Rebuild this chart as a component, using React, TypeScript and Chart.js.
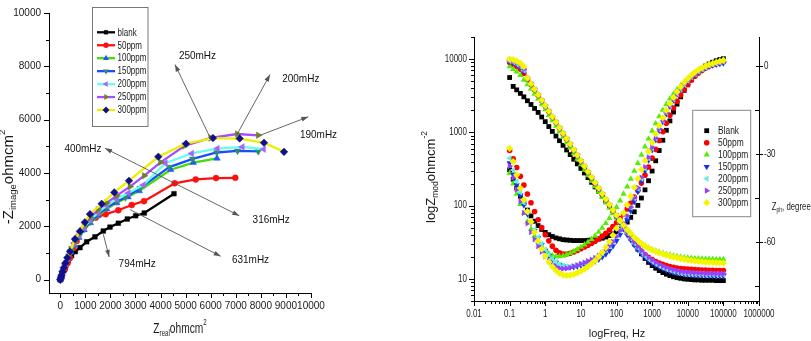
import React, { useEffect, useRef } from 'react';
import { Chart, registerables } from 'chart.js';
Chart.register(...registerables);

// ---------------- Nyquist data (left) ----------------
const nyqNames = ['blank', '50ppm', '100ppm', '150ppm', '200ppm', '250ppm', '300ppm'];
const blankZre = [0, 30, 70, 130, 210, 320, 450, 600, 786, 1053, 1384, 1715, 1983, 2314, 2673, 3008, 3351, 4535];
const blankZim = [0, 80, 190, 340, 520, 720, 900, 1050, 1200, 1420, 1606, 1825, 1971, 2117, 2275, 2397, 2500, 3223];
const ppm50Zre = [0, 60, 187, 290, 387, 519, 654, 854, 1117, 1412, 1811, 2314, 2848, 3339, 4562, 5401, 6211, 6981];
const ppm50Zim = [0, 130, 390, 620, 814, 1179, 1449, 1850, 2153, 2325, 2456, 2602, 2799, 2945, 3613, 3759, 3808, 3820];
const ppm100Zre = [0, 40, 110, 200, 300, 420, 560, 740, 950, 1200, 1500, 1850, 2250, 2700, 3150, 4404, 5305, 6250];
const ppm100Zim = [0, 115, 310, 540, 780, 1030, 1290, 1580, 1870, 2130, 2390, 2650, 2880, 3100, 3330, 4124, 4392, 4550];
const ppm150Zre = [0, 40, 110, 200, 300, 420, 560, 740, 950, 1200, 1500, 1850, 2250, 2600, 3180, 4348, 5281, 6239, 7068, 7898];
const ppm150Zim = [0, 115, 315, 550, 800, 1060, 1320, 1610, 1900, 2170, 2440, 2700, 2930, 3080, 3431, 4222, 4526, 4769, 4830, 4810];
const ppm200Zre = [0, 40, 110, 200, 300, 420, 560, 740, 950, 1200, 1500, 1850, 2250, 2712, 3311, 4190, 5241, 6263, 7260, 8110];
const ppm200Zim = [0, 120, 325, 570, 830, 1100, 1370, 1670, 1960, 2240, 2510, 2780, 3020, 3248, 3551, 4370, 4733, 4916, 4976, 4891];
const ppm250Zre = [0, 40, 110, 200, 300, 420, 560, 740, 950, 1200, 1500, 1850, 2250, 2780, 3350, 4000, 4946, 5999, 7060, 7898];
const ppm250Zim = [0, 125, 340, 590, 860, 1140, 1420, 1730, 2040, 2330, 2620, 2880, 3150, 3490, 3900, 4400, 5012, 5316, 5462, 5414];
const ppm300Zre = [0, 20, 50, 90, 140, 200, 280, 387, 586, 786, 980, 1184, 1650, 2154, 2740, 3909, 5014, 6090, 7154, 8125, 8923];
const ppm300Zim = [0, 70, 170, 300, 450, 620, 820, 1058, 1522, 1813, 2150, 2456, 2847, 3273, 3711, 4609, 5098, 5310, 5292, 5134, 4793];

const nyqXTicks = [0, 1000, 2000, 3000, 4000, 5000, 6000, 7000, 8000, 9000, 10000];
const nyqYTicks = [0, 2000, 4000, 6000, 8000, 10000];

const annoText = ['250mHz', '200mHz', '190mHz', '400mHz', '316mHz', '631mHz', '794mHz'];
const annoTextX = [5472, 9593, 10300, 905, 8412, 7587, 3067];
const annoTextY = [8394, 7518, 5438, 4909, 2226, 741, 573];
const arrowFromX = [5994, 7060, 7966, 3845, 3845, 2784, 1716];
const arrowFromY = [5292, 5464, 5412, 3953, 3953, 2628, 1700];
const arrowToX = [4575, 8365, 9892, 1783, 7140, 6398, 1950];
const arrowToY = [8066, 7690, 6106, 4927, 2398, 876, 850];

// ---------------- Bode data (right) ----------------
const bodeNames = ['Blank', '50ppm', '100ppm', '150ppm', '200ppm', '250ppm', '300ppm'];
const freq = [0.1, 0.126, 0.158, 0.2, 0.251, 0.316, 0.398, 0.501, 0.631, 0.794,
  1, 1.26, 1.58, 2, 2.51, 3.16, 3.98, 5.01, 6.31, 7.94,
  10, 12.6, 15.8, 20, 25.1, 31.6, 39.8, 50.1, 63.1, 79.4,
  100, 126, 158, 200, 251, 316, 398, 501, 631, 794,
  1000, 1260, 1580, 2000, 2510, 3160, 3980, 5010, 6310, 7940,
  10000, 12600, 15800, 20000, 25100, 31600, 39800, 50100, 63100, 79400, 100000];

const modBlank = [5600, 4230, 3800, 3400, 3050, 2700, 2400, 2120, 1870, 1620,
  1400, 1200, 1030, 890, 770, 665, 575, 497, 430, 372,
  322, 279, 241, 208, 180, 156, 135, 116, 100, 86,
  73, 62, 52, 43, 36, 30, 25.5, 22, 19, 16.8,
  15.2, 14, 13, 12.2, 11.6, 11.1, 10.7, 10.4, 10.2, 10,
  9.9, 9.8, 9.7, 9.7, 9.6, 9.6, 9.6, 9.6, 9.5, 9.5, 9.5];
const mod50 = [9000, 8500, 8000, 7300, 6400, 5300, 4500, 3800, 3200, 2700,
  2280, 1920, 1610, 1360, 1140, 960, 808, 680, 572, 481,
  404, 340, 286, 240, 202, 170, 143, 120, 101, 85,
  71, 60, 50, 42, 36, 31, 27, 24, 21.5, 19.8,
  18.4, 17.3, 16.5, 15.8, 15.2, 14.8, 14.4, 14.1, 13.9, 13.7,
  13.6, 13.5, 13.4, 13.3, 13.2, 13.2, 13.1, 13.1, 13, 13, 13];
const mod100 = [7900, 7300, 6700, 6000, 5200, 4500, 3900, 3350, 2850, 2420,
  2050, 1720, 1450, 1220, 1030, 866, 728, 612, 515, 433,
  364, 306, 258, 217, 183, 154, 130, 110, 93, 79,
  68, 59, 51, 45, 40, 36, 32.5, 30, 28, 26.5,
  25.2, 24.2, 23.3, 22.5, 21.8, 21.2, 20.7, 20.3, 19.9, 19.6,
  19.4, 19.2, 19, 18.9, 18.8, 18.7, 18.6, 18.6, 18.5, 18.5, 18.5];
const mod150 = [9200, 8900, 8400, 7700, 6800, 5400, 4550, 3830, 3220, 2710,
  2280, 1920, 1610, 1360, 1140, 960, 808, 680, 572, 481,
  404, 340, 286, 240, 202, 170, 143, 120, 101, 85,
  70, 58, 48, 40, 34, 29, 25, 22, 19.8, 18,
  16.6, 15.5, 14.6, 13.9, 13.3, 12.8, 12.4, 12.1, 11.9, 11.7,
  11.5, 11.4, 11.3, 11.2, 11.2, 11.1, 11.1, 11, 11, 11, 11];
const mod200 = [9400, 9100, 8600, 7900, 7000, 5500, 4620, 3890, 3270, 2750,
  2320, 1950, 1640, 1380, 1160, 977, 822, 692, 582, 490,
  412, 346, 291, 245, 206, 173, 146, 122, 103, 86,
  72, 60, 50, 42, 35.5, 30.5, 26.5, 23.3, 20.8, 18.8,
  17.3, 16.1, 15.1, 14.3, 13.7, 13.2, 12.8, 12.5, 12.2, 12,
  11.9, 11.8, 11.7, 11.6, 11.6, 11.5, 11.5, 11.5, 11.5, 11.5, 11.5];
const mod250 = [9600, 9300, 8900, 8200, 7300, 5600, 4700, 3950, 3320, 2790,
  2350, 1980, 1660, 1400, 1180, 990, 833, 700, 590, 496,
  417, 351, 295, 248, 209, 176, 148, 124, 105, 88,
  73, 61, 51, 43, 36.5, 31.5, 27.5, 24.2, 21.6, 19.5,
  18, 16.8, 15.8, 15, 14.3, 13.7, 13.3, 12.9, 12.6, 12.4,
  12.3, 12.2, 12.1, 12, 12, 11.9, 11.9, 11.9, 11.8, 11.8, 11.8];
const mod300 = [10000, 9800, 9400, 8800, 7900, 5500, 4620, 3890, 3270, 2750,
  2320, 1950, 1640, 1380, 1160, 977, 822, 692, 582, 490,
  413, 347, 292, 245, 207, 174, 146, 123, 104, 87,
  74, 63, 54, 47, 42, 37, 33.5, 30.5, 28.2, 26.3,
  24.8, 23.7, 22.6, 21.9, 21.1, 20.4, 19.9, 19.4, 18.9, 18.5,
  18.2, 17.9, 17.6, 17.4, 17.2, 17, 16.9, 16.8, 16.7, 16.6, 16.5];

const phBlank = [-35.3, -38.5, -41.5, -44.3, -46.8, -49, -51, -52.8, -54.3, -55.6,
  -56.6, -57.4, -58, -58.5, -58.8, -59.1, -59.2, -59.3, -59.4, -59.4,
  -59.4, -59.4, -59.3, -59.2, -59.1, -58.9, -58.6, -58.2, -57.7, -57.1,
  -56.4, -55.5, -54.4, -53.1, -51.5, -49.6, -47.4, -44.9, -42.1, -39,
  -35.7, -32.2, -28.7, -25.2, -21.8, -18.6, -15.6, -12.9, -10.4, -8.2,
  -6.3, -4.6, -3.1, -1.9, -0.8, 0.1, 0.8, 1.4, 1.9, 2.3, 2.6];
const ph50 = [-28.7, -31.5, -34.5, -37.5, -40.5, -43.5, -46.5, -49.5, -52.3, -55,
  -57.4, -59.5, -61.3, -62.7, -63.6, -64, -64, -63.7, -63.3, -62.8,
  -62.2, -61.6, -61, -60.3, -59.6, -58.8, -57.9, -56.9, -55.8, -54.6,
  -53.3, -51.9, -50.3, -48.6, -46.7, -44.6, -42.3, -39.8, -37.1, -34.3,
  -31.3, -28.3, -25.3, -22.3, -19.4, -16.7, -14.2, -11.9, -9.8, -7.9,
  -6.2, -4.7, -3.4, -2.3, -1.4, -0.6, 0, 0.5, 0.9, 1.2, 1.5];
const ph100 = [-36.4, -40, -43.5, -47, -50, -53, -55.5, -57.8, -59.8, -61.5,
  -62.8, -63.8, -64.5, -64.8, -64.8, -64.6, -64.2, -63.7, -63.1, -62.4,
  -61.6, -60.8, -59.9, -58.9, -57.8, -56.5, -55.1, -53.5, -51.8, -50,
  -48, -45.8, -43.5, -41, -38.4, -35.7, -33, -30.2, -27.4, -24.7,
  -22, -19.5, -17.1, -14.9, -12.9, -11, -9.4, -7.9, -6.6, -5.4,
  -4.3, -3.3, -2.4, -1.6, -0.9, -0.3, 0.3, 0.8, 1.3, 1.8, 2.3];
const ph150 = [-33, -36.8, -40.5, -44, -47.3, -50.4, -53.3, -56, -58.5, -60.8,
  -62.8, -64.5, -65.9, -66.9, -67.7, -68.2, -68.5, -68.5, -68.4, -68.2,
  -67.9, -67.6, -67.3, -66.9, -66.4, -65.8, -65, -64, -62.8, -61.3,
  -59.5, -57.4, -55, -52.3, -49.3, -46.1, -42.7, -39.2, -35.6, -32,
  -28.5, -25.1, -21.9, -18.9, -16.2, -13.7, -11.5, -9.5, -7.8, -6.3,
  -5, -3.8, -2.8, -1.9, -1.1, -0.5, 0, 0.4, 0.7, 0.9, 1.1];
const ph200 = [-31.3, -35.3, -39.2, -43, -46.5, -49.8, -52.8, -55.6, -58.2, -60.5,
  -62.5, -64.2, -65.6, -66.7, -67.5, -68, -68.2, -68.2, -68, -67.7,
  -67.4, -67, -66.5, -66, -65.4, -64.6, -63.7, -62.6, -61.3, -59.8,
  -58, -56, -53.6, -51, -48.1, -45, -41.7, -38.3, -34.8, -31.3,
  -27.9, -24.6, -21.5, -18.6, -15.9, -13.5, -11.3, -9.4, -7.7, -6.2,
  -4.9, -3.7, -2.7, -1.8, -1, -0.4, 0.2, 0.6, 1, 1.3, 1.5];
const ph250 = [-34, -38, -42, -46, -50, -53.5, -56.5, -59, -61.3, -63.2,
  -64.8, -66.4, -67.6, -68.4, -68.9, -69, -68.9, -68.6, -68.2, -67.8,
  -67.3, -66.9, -66.4, -65.9, -65.3, -64.6, -63.7, -62.6, -61.3, -59.8,
  -58, -56, -53.6, -51, -48, -44.8, -41.4, -37.9, -34.4, -31,
  -27.6, -24.4, -21.3, -18.4, -15.8, -13.4, -11.2, -9.3, -7.6, -6.1,
  -4.8, -3.6, -2.6, -1.7, -0.9, -0.3, 0.2, 0.6, 1, 1.3, 1.5];
const ph300 = [-28, -32.5, -37, -41.5, -45.5, -49.5, -53, -56.5, -59.5, -62.3,
  -64.7, -66.7, -68.3, -69.6, -70.5, -71.1, -71.3, -71.2, -70.9, -70.4,
  -69.8, -69.1, -68.3, -67.3, -66.2, -64.9, -63.4, -61.7, -59.8, -57.6,
  -55.2, -52.7, -50, -47.2, -44.3, -41.3, -38.3, -35.2, -32.1, -29,
  -26, -23, -20.2, -17.5, -15, -12.7, -10.6, -8.7, -7, -5.5,
  -4.2, -3, -2, -1.2, -0.5, 0.1, 0.6, 1, 1.4, 1.7, 2];

const bodeXTicks = [0.01, 0.1, 1, 10, 100, 1000, 10000, 100000, 1000000];
const bodeYTicks = [10, 100, 1000, 10000];
const phaseTicks = [0, -30, -60];

// ---------------- styles ----------------
const FONT = '"Liberation Sans", Arial, sans-serif';

const nyqStyle = [
  { line: '#000000', mk: '#000000', shape: 'rect', rot: 0, r: 3.3 },
  { line: '#ff1010', mk: '#ff1010', shape: 'circle', rot: 0, r: 3 },
  { line: '#44dd00', mk: '#2255ff', shape: 'triangle', rot: 0, r: 3.8 },
  { line: '#1a4dff', mk: '#2e8b6e', shape: 'triangle', rot: 180, r: 3.8 },
  { line: '#66ffee', mk: '#a466ff', shape: 'triangle', rot: -90, r: 3.8 },
  { line: '#a64dff', mk: '#6f7f22', shape: 'triangle', rot: 90, r: 3.8 },
  { line: '#eeee00', mk: '#10108c', shape: 'rectRot', rot: 0, r: 3.8 },
];
const bodeStyle = [
  { c: '#000000', shape: 'rect', rot: 0, r: 3.4 },
  { c: '#ff0000', shape: 'circle', rot: 0, r: 2.8 },
  { c: '#55ee00', shape: 'triangle', rot: 0, r: 3.6 },
  { c: '#1133ee', shape: 'triangle', rot: 180, r: 3.6 },
  { c: '#66eedd', shape: 'triangle', rot: -90, r: 3.6 },
  { c: '#9b3dff', shape: 'triangle', rot: 90, r: 3.6 },
  { c: '#f5f500', shape: 'rectRot', rot: 0, r: 3.6 },
];

// ---------------- helpers ----------------
function drawMarker(ctx: CanvasRenderingContext2D, shape: string, x: number, y: number, r: number, rotDeg: number, color: string) {
  ctx.save();
  ctx.fillStyle = color;
  ctx.beginPath();
  const rad0 = (rotDeg * Math.PI) / 180;
  if (shape === 'circle') {
    ctx.arc(x, y, r, 0, Math.PI * 2);
  } else if (shape === 'rect') {
    const s = r * Math.SQRT1_2;
    ctx.rect(x - s, y - s, 2 * s, 2 * s);
  } else if (shape === 'rectRot') {
    ctx.moveTo(x, y - r); ctx.lineTo(x + r, y); ctx.lineTo(x, y + r); ctx.lineTo(x - r, y); ctx.closePath();
  } else {
    let rad = rad0;
    ctx.moveTo(x + Math.sin(rad) * r, y - Math.cos(rad) * r);
    rad += (2 * Math.PI) / 3;
    ctx.lineTo(x + Math.sin(rad) * r, y - Math.cos(rad) * r);
    rad += (2 * Math.PI) / 3;
    ctx.lineTo(x + Math.sin(rad) * r, y - Math.cos(rad) * r);
    ctx.closePath();
  }
  ctx.fill();
  ctx.restore();
}

type Seg = { t: string; s: number; dy?: number };
function drawRich(ctx: CanvasRenderingContext2D, segs: Seg[], x: number, y: number, rot: number, scaleX: number, align: 'center' | 'left', color = '#1a1a1a') {
  ctx.save();
  ctx.translate(x, y);
  ctx.rotate(rot);
  ctx.scale(scaleX, 1);
  ctx.fillStyle = color;
  ctx.textBaseline = 'alphabetic';
  ctx.textAlign = 'left';
  let total = 0;
  const widths = segs.map((g) => { ctx.font = `${g.s}px ${FONT}`; const w = ctx.measureText(g.t).width; total += w; return w; });
  let cx = align === 'center' ? -total / 2 : 0;
  segs.forEach((g, i) => { ctx.font = `${g.s}px ${FONT}`; ctx.fillText(g.t, cx, g.dy || 0); cx += widths[i]; });
  ctx.restore();
}

function drawText(ctx: CanvasRenderingContext2D, t: string, x: number, y: number, size: number, align: CanvasTextAlign, scaleX: number, color = '#1a1a1a') {
  ctx.save();
  ctx.translate(x, y);
  ctx.scale(scaleX, 1);
  ctx.font = `${size}px ${FONT}`;
  ctx.fillStyle = color;
  ctx.textAlign = align;
  ctx.textBaseline = 'middle';
  ctx.fillText(t, 0, 0);
  ctx.restore();
}

function drawArrow(ctx: CanvasRenderingContext2D, x0: number, y0: number, x1: number, y1: number) {
  ctx.beginPath(); ctx.moveTo(x0, y0); ctx.lineTo(x1, y1); ctx.stroke();
  const a = Math.atan2(y1 - y0, x1 - x0);
  const L = 7, W = 2.4;
  const c = Math.cos(a), s = Math.sin(a);
  ctx.beginPath();
  ctx.moveTo(x1, y1);
  ctx.lineTo(x1 - L * c + W * s, y1 - L * s - W * c);
  ctx.lineTo(x1 - L * c - W * s, y1 - L * s + W * c);
  ctx.closePath(); ctx.fill();
}

function tickLine(ctx: CanvasRenderingContext2D, x0: number, y0: number, x1: number, y1: number) {
  ctx.moveTo(x0, y0); ctx.lineTo(x1, y1);
}

// ---------------- left chart ----------------
function leftConfig(): any {
  const xs = [blankZre, ppm50Zre, ppm100Zre, ppm150Zre, ppm200Zre, ppm250Zre, ppm300Zre];
  const ys = [blankZim, ppm50Zim, ppm100Zim, ppm150Zim, ppm200Zim, ppm250Zim, ppm300Zim];
  const datasets = nyqNames.map((n, k) => ({
    label: n,
    data: xs[k].map((v, i) => ({ x: v, y: ys[k][i] })),
    showLine: true,
    borderColor: nyqStyle[k].line,
    borderWidth: 2.3,
    pointStyle: nyqStyle[k].shape,
    rotation: nyqStyle[k].rot,
    pointRadius: nyqStyle[k].r,
    pointBackgroundColor: nyqStyle[k].mk,
    pointBorderColor: nyqStyle[k].mk,
    pointBorderWidth: 0.5,
    order: 6 - k,
  }));
  const decor = {
    id: 'leftDecor',
    afterDraw(chart: any) {
      const { ctx, chartArea: a, scales } = chart;
      const x = scales.x, y = scales.y;
      ctx.save();
      ctx.strokeStyle = '#000'; ctx.lineWidth = 1;
      ctx.beginPath();
      nyqXTicks.forEach((v) => { const p = Math.round(x.getPixelForValue(v)) + 0.5; tickLine(ctx, p, a.bottom, p, a.bottom + 5); });
      for (let i = 0; i < nyqXTicks.length - 1; i++) { const p = Math.round(x.getPixelForValue((nyqXTicks[i] + nyqXTicks[i + 1]) / 2)) + 0.5; tickLine(ctx, p, a.bottom, p, a.bottom + 3); }
      nyqYTicks.forEach((v) => { const p = Math.round(y.getPixelForValue(v)) + 0.5; tickLine(ctx, a.left, p, a.left - 5, p); });
      for (let i = 0; i < nyqYTicks.length - 1; i++) { const p = Math.round(y.getPixelForValue((nyqYTicks[i] + nyqYTicks[i + 1]) / 2)) + 0.5; tickLine(ctx, a.left, p, a.left - 3, p); }
      ctx.stroke();
      // arrows
      ctx.strokeStyle = '#555'; ctx.fillStyle = '#555'; ctx.lineWidth = 0.9;
      for (let i = 0; i < arrowFromX.length; i++) {
        drawArrow(ctx, x.getPixelForValue(arrowFromX[i]), y.getPixelForValue(arrowFromY[i]), x.getPixelForValue(arrowToX[i]), y.getPixelForValue(arrowToY[i]));
      }
      annoText.forEach((t, i) => drawText(ctx, t, x.getPixelForValue(annoTextX[i]), y.getPixelForValue(annoTextY[i]), 10.5, 'center', 0.95, '#111'));
      // legend
      const bx = 92.5, by = 7.5, bw = 55.5, bh = 119;
      ctx.fillStyle = '#fff'; ctx.fillRect(bx, by, bw, bh);
      ctx.strokeStyle = '#777'; ctx.lineWidth = 1; ctx.strokeRect(bx, by, bw, bh);
      nyqNames.forEach((n, k) => {
        const yy = 32.3 + k * 12.95;
        ctx.strokeStyle = nyqStyle[k].line; ctx.lineWidth = 2.3;
        ctx.beginPath(); ctx.moveTo(97, yy); ctx.lineTo(115, yy); ctx.stroke();
        drawMarker(ctx, nyqStyle[k].shape, 106, yy, nyqStyle[k].r * 0.9, nyqStyle[k].rot, nyqStyle[k].mk);
        drawText(ctx, n, 117.5, yy + 0.5, 10, 'left', 0.8);
      });
      // titles
      drawRich(ctx, [{ t: '-Z', s: 15 }, { t: 'image', s: 9.5, dy: 3 }, { t: 'ohmcm', s: 15 }, { t: '2', s: 9.5, dy: -8 }], 13, 177, -Math.PI / 2, 1, 'center');
      drawRich(ctx, [{ t: 'Z', s: 15 }, { t: 'real', s: 9, dy: 3 }, { t: 'ohmcm', s: 15 }, { t: '2', s: 9, dy: -8 }], 180, 333, 0, 0.68, 'center');
      ctx.restore();
    },
  };
  const tickFont = { family: FONT, size: 10, lineHeight: 1 };
  return {
    type: 'scatter',
    data: { datasets },
    options: {
      animation: false, responsive: false, devicePixelRatio: 1, events: [],
      layout: { padding: { top: 5, right: 34, left: 0, bottom: 0 } },
      plugins: { legend: { display: false }, tooltip: { enabled: false } },
      scales: {
        x: {
          type: 'linear', min: -450, max: 10000,
          afterBuildTicks: (s: any) => { s.ticks = nyqXTicks.map((v) => ({ value: v })); },
          afterFit: (s: any) => { s.height = 48; },
          ticks: { font: tickFont, color: '#1a1a1a', padding: 8, autoSkip: false, maxRotation: 0, callback: (v: any) => String(v) },
          grid: { display: false, drawTicks: false },
          border: { display: true, color: '#000', width: 1 },
        },
        y: {
          type: 'linear', min: -500, max: 10000,
          afterBuildTicks: (s: any) => { s.ticks = nyqYTicks.map((v) => ({ value: v })); },
          afterFit: (s: any) => { s.width = 49; },
          ticks: { font: tickFont, color: '#1a1a1a', padding: 8, autoSkip: false, callback: (v: any) => String(v) },
          grid: { display: false, drawTicks: false },
          border: { display: true, color: '#000', width: 1 },
        },
      },
    },
    plugins: [decor],
  };
}

// ---------------- right chart ----------------
function rightConfig(): any {
  const mods = [modBlank, mod50, mod100, mod150, mod200, mod250, mod300];
  const phs = [phBlank, ph50, ph100, ph150, ph200, ph250, ph300];
  const datasets: any[] = [];
  bodeNames.forEach((n, k) => {
    const st = bodeStyle[k];
    const common = {
      showLine: false, pointStyle: st.shape, rotation: st.rot, pointRadius: st.r,
      pointBackgroundColor: st.c, pointBorderColor: st.c, pointBorderWidth: 0, order: 6 - k,
    };
    datasets.push({ label: n, yAxisID: 'y', data: freq.map((f, i) => ({ x: f, y: mods[k][i] })), ...common });
    datasets.push({ label: n + ' phase', yAxisID: 'y2', data: freq.map((f, i) => ({ x: f, y: phs[k][i] })), ...common });
  });
  const decor = {
    id: 'rightDecor',
    afterDraw(chart: any) {
      const { ctx, chartArea: a, scales } = chart;
      const x = scales.x, y = scales.y, y2 = scales.y2;
      ctx.save();
      ctx.strokeStyle = '#000'; ctx.lineWidth = 1;
      ctx.beginPath();
      bodeXTicks.forEach((v, i) => {
        const p = Math.round(x.getPixelForValue(v)) + 0.5; tickLine(ctx, p, a.bottom, p, a.bottom + 5);
        if (i < bodeXTicks.length - 1) for (let m = 2; m <= 9; m++) { const q = Math.round(x.getPixelForValue(v * m)) + 0.5; tickLine(ctx, q, a.bottom, q, a.bottom + 3); }
      });
      [1, 10, 100, 1000, 10000].forEach((d) => {
        for (let m = 1; m <= 9; m++) {
          const v = d * m;
          if (v < y.min || v > y.max) continue;
          const p = Math.round(y.getPixelForValue(v)) + 0.5;
          tickLine(ctx, a.left, p, a.left - (m === 1 ? 5 : 3), p);
        }
      });
      phaseTicks.forEach((v) => { const p = Math.round(y2.getPixelForValue(v)) + 0.5; tickLine(ctx, a.right - 3, p, a.right + 4, p); });
      phaseTicks.forEach((v) => { const p = Math.round(y2.getPixelForValue(v - 15)) + 0.5; tickLine(ctx, a.right - 4, p, a.right, p); });
      ctx.stroke();
      // tick labels (condensed)
      bodeXTicks.forEach((v) => drawText(ctx, String(v), x.getPixelForValue(v), a.bottom + 13.5, 10, 'center', 0.8));
      bodeYTicks.forEach((v) => drawText(ctx, String(v), a.left - 7, y.getPixelForValue(v), 10, 'right', 0.8));
      phaseTicks.forEach((v) => drawText(ctx, String(v), a.right + 5, y2.getPixelForValue(v), 10, 'left', 0.8));
      // legend
      const bx = 292.7, by = 110.3, bw = 58, bh = 106.4;
      ctx.fillStyle = '#fff'; ctx.fillRect(bx, by, bw, bh);
      ctx.strokeStyle = '#888'; ctx.lineWidth = 1; ctx.strokeRect(bx, by, bw, bh);
      bodeNames.forEach((n, k) => {
        const yy = 130.7 + k * 12;
        drawMarker(ctx, bodeStyle[k].shape, 306.7, yy, bodeStyle[k].r, bodeStyle[k].rot, bodeStyle[k].c);
        drawText(ctx, n, 318, yy + 0.5, 10.5, 'left', 0.8);
      });
      // titles
      drawRich(ctx, [{ t: 'logZ', s: 13 }, { t: 'mod', s: 8.5, dy: 3 }, { t: 'ohmcm', s: 13 }, { t: '-2', s: 8.5, dy: -8 }], 35, 177, -Math.PI / 2, 1, 'center');
      drawRich(ctx, [{ t: 'logFreq, Hz', s: 11.5 }], 217, 337, 0, 0.95, 'center');
      drawRich(ctx, [{ t: 'Z', s: 10 }, { t: 'ph', s: 6.5, dy: 2 }, { t: ', degree', s: 10 }], 371.7, 209.5, 0, 0.78, 'left');
      ctx.restore();
    },
  };
  const hiddenTicks = { display: false };
  return {
    type: 'scatter',
    data: { datasets },
    options: {
      animation: false, responsive: false, devicePixelRatio: 1, events: [],
      layout: { padding: { top: 37, right: 0, left: 0, bottom: 0 } },
      plugins: { legend: { display: false }, tooltip: { enabled: false } },
      scales: {
        x: {
          type: 'logarithmic', min: 0.01, max: 1000000,
          afterBuildTicks: (s: any) => { s.ticks = bodeXTicks.map((v) => ({ value: v })); },
          afterFit: (s: any) => { s.height = 40; },
          ticks: hiddenTicks,
          grid: { display: false, drawTicks: false },
          border: { display: true, color: '#000', width: 1 },
        },
        y: {
          type: 'logarithmic', position: 'left', min: 5, max: 20000,
          afterBuildTicks: (s: any) => { s.ticks = bodeYTicks.map((v) => ({ value: v })); },
          afterFit: (s: any) => { s.width = 74; },
          ticks: hiddenTicks,
          grid: { display: false, drawTicks: false },
          border: { display: true, color: '#000', width: 1 },
        },
        y2: {
          type: 'linear', position: 'right', min: -80, max: 10,
          afterBuildTicks: (s: any) => { s.ticks = phaseTicks.map((v) => ({ value: v })); },
          afterFit: (s: any) => { s.width = 52; },
          ticks: hiddenTicks,
          grid: { display: false, drawTicks: false },
          border: { display: true, color: '#000', width: 1 },
        },
      },
    },
    plugins: [decor],
  };
}

export default function App() {
  const leftRef = useRef<HTMLCanvasElement>(null);
  const rightRef = useRef<HTMLCanvasElement>(null);
  useEffect(() => {
    const c1 = new Chart(leftRef.current as HTMLCanvasElement, leftConfig());
    const c2 = new Chart(rightRef.current as HTMLCanvasElement, rightConfig());
    return () => { c1.destroy(); c2.destroy(); };
  }, []);
  return (
    <div style={{ position: 'absolute', left: 0, top: 0, width: 811, height: 341, background: '#fff', overflow: 'hidden' }}>
      <canvas ref={leftRef} width={345} height={341} style={{ position: 'absolute', left: 0, top: 0, width: 345, height: 341 }} />
      <canvas ref={rightRef} width={411} height={341} style={{ position: 'absolute', left: 400, top: 0, width: 411, height: 341 }} />
    </div>
  );
}
